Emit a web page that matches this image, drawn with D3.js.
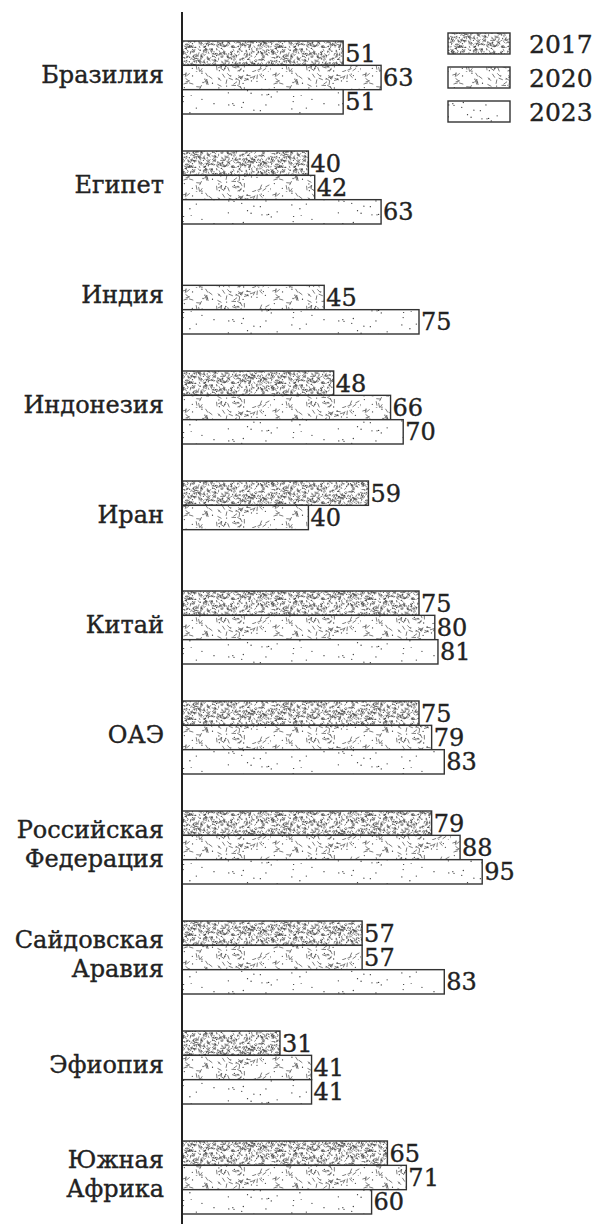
<!DOCTYPE html>
<html>
<head>
<meta charset="utf-8">
<script src="https://cdn.jsdelivr.net/npm/d3@7"></script>
<style>
  body { margin: 0; background: #fff; }
  text { font-family: "DejaVu Serif", serif; fill: #222; stroke: #222; stroke-width: 0.35; }
</style>
</head>
<body>
<svg id="chart"></svg>
<script>
var countries = [
  ["Бразилия"], ["Египет"], ["Индия"], ["Индонезия"], ["Иран"], ["Китай"], ["ОАЭ"],
  ["Российская", "Федерация"], ["Сайдовская", "Аравия"], ["Эфиопия"], ["Южная", "Африка"]
];
var years = ["2017", "2020", "2023"];
var values2017 = [51, 40, null, 48, 59, 75, 75, 79, 57, 31, 65];
var values2020 = [63, 42, 45, 66, 40, 80, 79, 88, 57, 41, 71];
var values2023 = [51, 63, 75, 70, null, 81, 83, 95, 83, 41, 60];

var screen = {width: 597, height: 1224};
var axisX = 182;

var svg = d3.select("#chart")
  .attr("width", screen.width)
  .attr("height", screen.height);

// textures for the three years (decorative only)
var noise = function(i) {
  var s = Math.sin(i * 12.9898 + 78.233) * 43758.5453;
  return s - Math.floor(s);
}
var defs = svg.append("defs");
var makePattern = function(id, w, h, strokes, len, dots, seed, color, sw) {
  var p = defs.append("pattern")
    .attr("id", id)
    .attr("patternUnits", "userSpaceOnUse")
    .attr("width", w)
    .attr("height", h);
  p.append("rect").attr("width", w).attr("height", h).attr("fill", "#fff");
  for (var i = 0; i < strokes; i++) {
    var x = noise(seed + i * 3) * w, y = noise(seed + i * 3 + 1) * h;
    var a = noise(seed + i * 3 + 2) * Math.PI;
    p.append("line")
      .attr("x1", x).attr("y1", y)
      .attr("x2", x + Math.cos(a) * len).attr("y2", y + Math.sin(a) * len)
      .attr("stroke", color).attr("stroke-width", sw);
  }
  for (var j = 0; j < dots; j++) {
    p.append("circle")
      .attr("cx", noise(seed + 900 + j * 2) * w)
      .attr("cy", noise(seed + 901 + j * 2) * h)
      .attr("r", 0.65)
      .attr("fill", color);
  }
}
makePattern("p2017", 90, 24, 340, 2.6, 130, 1, "#444", 0.65);
makePattern("p2020", 90, 24, 60, 4.5, 30, 3000, "#444", 0.7);
makePattern("p2023", 110, 24, 0, 0, 24, 7000, "#333", 0);
var fills = {"2017": "url(#p2017)", "2020": "url(#p2020)", "2023": "url(#p2023)"};

var xScale = d3.scaleLinear()
  .domain([0, 100])
  .range([axisX, axisX + 316]);

var yScale = d3.scaleBand()
  .domain(d3.range(countries.length))
  .range([41, 1214])
  .paddingInner(37 / 110)
  .paddingOuter(0);

var yInner = d3.scaleBand()
  .domain(years)
  .range([0, yScale.bandwidth()]);

var rows = [];
countries.forEach(function(c, i) {
  [values2017, values2020, values2023].forEach(function(vals, k) {
    if (vals[i] != null) rows.push({idx: i, year: years[k], value: vals[i]});
  });
});

var bars = svg.append("g");
bars.selectAll("rect")
  .data(rows)
  .enter()
  .append("rect")
  .attr("x", xScale(0))
  .attr("y", function(d) { return yScale(d.idx) + yInner(d.year); })
  .attr("width", function(d) { return xScale(d.value) - xScale(0); })
  .attr("height", yInner.bandwidth())
  .attr("fill", function(d) { return fills[d.year]; })
  .attr("stroke", "#333")
  .attr("stroke-width", 1.4);

bars.selectAll("text")
  .data(rows)
  .enter()
  .append("text")
  .attr("x", function(d) { return xScale(d.value) + 2; })
  .attr("y", function(d) { return yScale(d.idx) + yInner(d.year) + yInner.bandwidth() / 2; })
  .attr("dy", "0.36em")
  .attr("font-size", 24)
  .text(function(d) { return d.value; });

// category labels
var labels = svg.append("g").attr("text-anchor", "end");
countries.forEach(function(lines, i) {
  var cy = yScale(i) + yScale.bandwidth() / 2;
  lines.forEach(function(line, j) {
    var off = lines.length == 1 ? 5.5 : (j == 0 ? -9.5 : 19.5);
    labels.append("text")
      .attr("x", 164)
      .attr("y", cy + off)
      .attr("font-size", 24)
      .text(line);
  });
});

// axis
svg.append("line")
  .attr("x1", axisX).attr("x2", axisX)
  .attr("y1", 12).attr("y2", screen.height)
  .attr("stroke", "#222")
  .attr("stroke-width", 2);

// legend
var legend = svg.append("g");
years.forEach(function(y, i) {
  legend.append("rect")
    .attr("x", 448).attr("y", 33 + i * 34)
    .attr("width", 62).attr("height", 21)
    .attr("fill", fills[y])
    .attr("stroke", "#333")
    .attr("stroke-width", 1.4);
  legend.append("text")
    .attr("x", 529).attr("y", 43.5 + i * 34)
    .attr("dy", "0.36em")
    .attr("font-size", 25)
    .text(y);
});
</script>
</body>
</html>
